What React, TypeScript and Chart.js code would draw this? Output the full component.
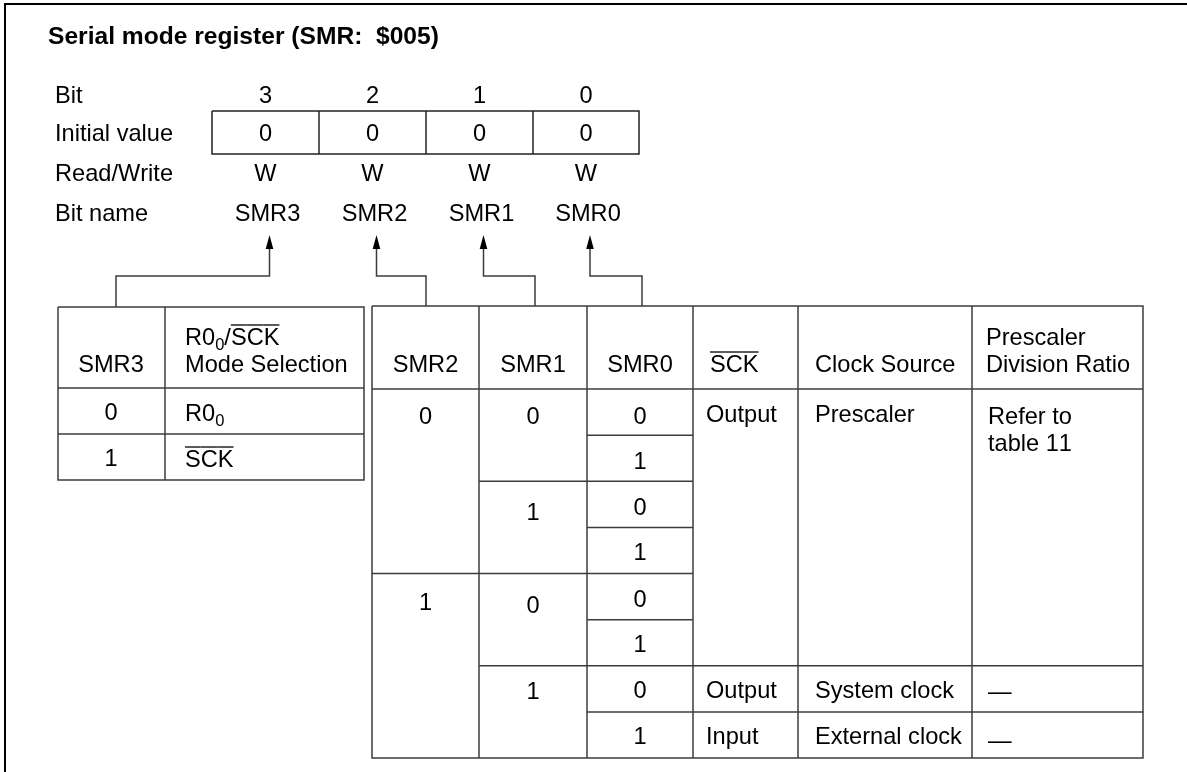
import React, { useEffect, useRef } from 'react';
import { Chart, registerables } from 'chart.js';

Chart.register(...registerables);

// ---------- data ----------
const TITLE = 'Serial mode register (SMR:  $005)';
const ROW_LABELS = ['Bit', 'Initial value', 'Read/Write', 'Bit name'];
const BITS = ['3', '2', '1', '0'];
const INITIAL_VALUES = ['0', '0', '0', '0'];
const READ_WRITE = ['W', 'W', 'W', 'W'];
const BIT_NAMES = ['SMR3', 'SMR2', 'SMR1', 'SMR0'];

// "_x" = subscript character, "~" = overline until next non-letter
const LEFT_HEADERS = ['SMR3', 'R0_0/~SCK\nMode Selection'];
const SMR3_VALUES = ['0', '1'];
const SMR3_MODES = ['R0_0', '~SCK'];

const RIGHT_HEADERS = ['SMR2', 'SMR1', 'SMR0', '~SCK', 'Clock Source', 'Prescaler\nDivision Ratio'];
const SMR2_VALUES = ['0', '1'];
const SMR2_SPANS = [4, 4];
const SMR1_VALUES = ['0', '1', '0', '1'];
const SMR1_SPANS = [2, 2, 2, 2];
const SMR0_VALUES = ['0', '1', '0', '1', '0', '1', '0', '1'];
const SMR0_SPANS = [1, 1, 1, 1, 1, 1, 1, 1];
const SCK_DIRECTIONS = ['Output', 'Output', 'Input'];
const CLOCK_SOURCES = ['Prescaler', 'System clock', 'External clock'];
const DIVISION_RATIOS = ['Refer to\ntable 11', '—', '—'];
const FUNCTION_SPANS = [6, 1, 1];

// ---------- layout (not data) ----------
const W = 1187;
const H = 772;
const FONT = '"Liberation Sans", Arial, Helvetica, sans-serif';
const FS = 23.6;
const TITLE_FS = 24.6;
const SUB_FS = 16.5;

type Seg = { t: string; sub: boolean; over: boolean };
function parseRich(s: string): Seg[] {
  const segs: Seg[] = [];
  let over = false;
  for (let i = 0; i < s.length; i++) {
    const c = s[i];
    if (c === '~') { over = true; continue; }
    if (c === '_' && i + 1 < s.length) {
      segs.push({ t: s[i + 1], sub: true, over });
      i++;
      continue;
    }
    if (over && !/[A-Za-z0-9]/.test(c)) over = false;
    segs.push({ t: c, sub: false, over });
  }
  return segs;
}

function drawRich(ctx: CanvasRenderingContext2D, s: string, x: number, y: number, align: 'left' | 'center', bold = false) {
  const segs = parseRich(s);
  const size = bold ? TITLE_FS : FS;
  const fMain = `${bold ? 'bold ' : ''}${size}px ${FONT}`;
  const fSub = `${SUB_FS}px ${FONT}`;
  let total = 0;
  for (const g of segs) {
    ctx.font = g.sub ? fSub : fMain;
    total += ctx.measureText(g.t).width;
  }
  let cx = align === 'center' ? x - total / 2 : x;
  ctx.textAlign = 'left';
  ctx.textBaseline = 'alphabetic';
  const base = y + size * 0.36;
  const capTop = base - size * 0.72;
  for (const g of segs) {
    ctx.font = g.sub ? fSub : fMain;
    const w = ctx.measureText(g.t).width;
    ctx.fillText(g.t, cx, g.sub ? base + 5 : base);
    if (g.over) {
      ctx.save();
      ctx.strokeStyle = '#000';
      ctx.lineWidth = 1.3;
      ctx.beginPath();
      ctx.moveTo(cx, capTop - 3.5);
      ctx.lineTo(cx + w, capTop - 3.5);
      ctx.stroke();
      ctx.restore();
    }
    cx += w;
  }
}

const diagramPlugin = {
  id: 'registerDiagram',
  afterDraw(chart: any) {
    const ctx: CanvasRenderingContext2D = chart.ctx;
    const xs = chart.scales.x;
    const ys = chart.scales.y;
    const px = (v: number) => xs.getPixelForValue(v);
    const py = (v: number) => ys.getPixelForValue(v);

    const line = (pts: number[][], color = '#3c3c3c', lw = 1.5) => {
      ctx.save();
      ctx.strokeStyle = color;
      ctx.lineWidth = lw;
      ctx.beginPath();
      pts.forEach((p, i) => (i === 0 ? ctx.moveTo(px(p[0]), py(p[1])) : ctx.lineTo(px(p[0]), py(p[1]))));
      ctx.stroke();
      ctx.restore();
    };
    const text = (s: string, x: number, y: number, align: 'left' | 'center' = 'left', bold = false) => {
      const lines = s.split('\n');
      ctx.fillStyle = '#000';
      lines.forEach((l, i) => drawRich(ctx, l, px(x), py(y + i * 27), align, bold));
    };

    ctx.save();
    // frame
    line([[5, 772], [5, 4], [1187, 4]], '#000', 2);

    // title
    text(TITLE, 48, 35, 'left', true);

    // register rows
    const rowY = [95, 133, 173, 213];
    ROW_LABELS.forEach((l, i) => text(l, 55, rowY[i]));
    const colEdges = [212, 319, 426, 533, 639];
    const colC = (i: number) => (colEdges[i] + colEdges[i + 1]) / 2;
    BITS.forEach((b, i) => text(b, colC(i), rowY[0], 'center'));
    INITIAL_VALUES.forEach((b, i) => text(b, colC(i), rowY[1], 'center'));
    READ_WRITE.forEach((b, i) => text(b, colC(i), rowY[2], 'center'));
    BIT_NAMES.forEach((b, i) => text(b, colC(i) + 2, rowY[3], 'center'));
    line([[212, 111], [639, 111], [639, 154], [212, 154], [212, 111]], '#222', 1.5);
    for (let i = 1; i < 4; i++) line([[colEdges[i], 111], [colEdges[i], 154]], '#222', 1.5);

    // connectors with arrows
    const arrowX = BIT_NAMES.map((_, i) => colC(i) + 4);
    const targetX = [116, 426, 535, 642];
    const targetY = [307, 306, 306, 306];
    arrowX.forEach((ax, i) => {
      line([[ax, 246], [ax, 276], [targetX[i], 276], [targetX[i], targetY[i]]]);
      ctx.fillStyle = '#000';
      ctx.beginPath();
      ctx.moveTo(px(ax), py(235));
      ctx.lineTo(px(ax - 3.8), py(249));
      ctx.lineTo(px(ax + 3.8), py(249));
      ctx.closePath();
      ctx.fill();
    });

    // left table
    const lx = [58, 165, 364];
    const ly = [307, 388, 434, 480];
    line([[lx[0], ly[0]], [lx[2], ly[0]], [lx[2], ly[3]], [lx[0], ly[3]], [lx[0], ly[0]]]);
    line([[lx[1], ly[0]], [lx[1], ly[3]]]);
    line([[lx[0], ly[1]], [lx[2], ly[1]]]);
    line([[lx[0], ly[2]], [lx[2], ly[2]]]);
    text(LEFT_HEADERS[0], 111, 364, 'center');
    text(LEFT_HEADERS[1], 185, 337);
    SMR3_VALUES.forEach((v, i) => text(v, 111, ly[i + 1] + 24, 'center'));
    SMR3_MODES.forEach((v, i) => text(v, 185, ly[i + 1] + 25));

    // right table
    const rx = [372, 479, 587, 693, 798, 972, 1143];
    const top = 306;
    const hdrB = 389;
    const bot = 758;
    const rh = (bot - hdrB) / 8;
    const rowTop = (r: number) => hdrB + r * rh;
    line([[rx[0], top], [rx[6], top], [rx[6], bot], [rx[0], bot], [rx[0], top]]);
    for (let i = 1; i < 6; i++) line([[rx[i], top], [rx[i], bot]]);
    line([[rx[0], hdrB], [rx[6], hdrB]]);
    const hdrY = [364, 364, 364, 364, 364, 337];
    const hdrX = [(rx[0] + rx[1]) / 2, (rx[1] + rx[2]) / 2, (rx[2] + rx[3]) / 2, 710, 815, 986];
    RIGHT_HEADERS.forEach((h, i) => text(h, hdrX[i], hdrY[i], i < 3 ? 'center' : 'left'));

    const spanColumn = (vals: string[], spans: number[], c: number, align: 'left' | 'center', x: number, dy: number[]) => {
      let r = 0;
      vals.forEach((v, i) => {
        if (r > 0) line([[rx[c], rowTop(r)], [rx[c + 1], rowTop(r)]]);
        text(v, x, rowTop(r) + rh / 2 + dy[i], align);
        r += spans[i];
      });
    };
    spanColumn(SMR2_VALUES, SMR2_SPANS, 0, 'center', (rx[0] + rx[1]) / 2, [3, 5]);
    spanColumn(SMR1_VALUES, SMR1_SPANS, 1, 'center', (rx[1] + rx[2]) / 2, [3, 7, 8, 2]);
    spanColumn(SMR0_VALUES, SMR0_SPANS, 2, 'center', (rx[2] + rx[3]) / 2, [3, 2, 2, 1, 2, 1, 1, 1]);
    spanColumn(SCK_DIRECTIONS, FUNCTION_SPANS, 3, 'left', 706, [1, 1, 1]);
    spanColumn(CLOCK_SOURCES, FUNCTION_SPANS, 4, 'left', 815, [1, 1, 1]);
    spanColumn(DIVISION_RATIOS, FUNCTION_SPANS, 5, 'left', 988, [3, 2, 5]);
    ctx.restore();
  },
};

export default function App() {
  const ref = useRef<HTMLCanvasElement | null>(null);
  useEffect(() => {
    if (!ref.current) return;
    const chart = new Chart(ref.current, {
      type: 'scatter',
      data: { datasets: [{ data: [], pointRadius: 0 }] },
      options: {
        animation: false,
        responsive: false,
        devicePixelRatio: 1,
        layout: { padding: 0 },
        events: [],
        plugins: { legend: { display: false }, tooltip: { enabled: false }, title: { display: false } },
        scales: {
          x: { type: 'linear', min: 0, max: W, display: false },
          y: { type: 'linear', min: 0, max: H, reverse: true, display: false },
        },
      },
      plugins: [diagramPlugin],
    });
    return () => chart.destroy();
  }, []);
  return (
    <div style={{ position: 'fixed', left: 0, top: 0, width: W, height: H, background: '#fff' }}>
      <canvas ref={ref} width={W} height={H} style={{ display: 'block', width: W, height: H }} />
    </div>
  );
}
